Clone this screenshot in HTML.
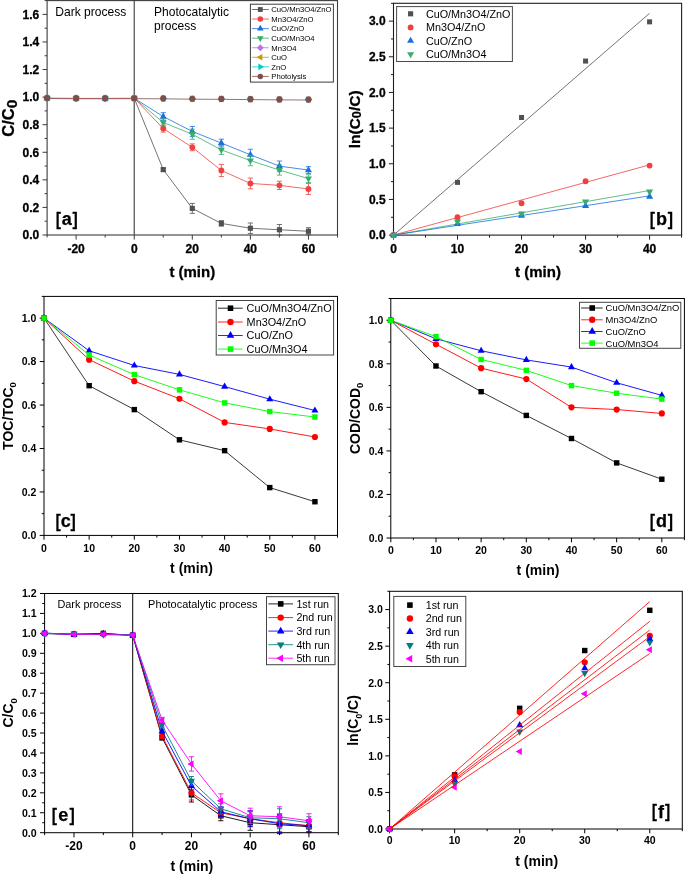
<!DOCTYPE html>
<html lang="en">
<head>
<meta charset="utf-8">
<title>Photocatalytic degradation kinetics</title>
<style>
html,body{margin:0;padding:0;background:#fff;}
body{width:685px;height:877px;overflow:hidden;}
svg{display:block;}
text{font-family:"Liberation Sans",Arial,Helvetica,sans-serif;}
</style>
</head>
<body>
<svg width="685" height="877" viewBox="0 0 685 877" font-family='&quot;Liberation Sans&quot;, Arial, Helvetica, sans-serif'>
<rect width="685" height="877" fill="#fff"/>
<g id="panel-a">
<rect x="47.1" y="0.6" width="290.4" height="234.4" fill="none" stroke="#3c3c3c" stroke-width="1.1"/>
<line x1="134.22" y1="0.6" x2="134.22" y2="235" stroke="#3c3c3c" stroke-width="1.1"/>
<line x1="47.1" y1="235" x2="47.1" y2="237.5" stroke="#3c3c3c" stroke-width="1"/>
<line x1="105.18" y1="235" x2="105.18" y2="237.5" stroke="#3c3c3c" stroke-width="1"/>
<line x1="163.26" y1="235" x2="163.26" y2="237.5" stroke="#3c3c3c" stroke-width="1"/>
<line x1="221.34" y1="235" x2="221.34" y2="237.5" stroke="#3c3c3c" stroke-width="1"/>
<line x1="279.42" y1="235" x2="279.42" y2="237.5" stroke="#3c3c3c" stroke-width="1"/>
<line x1="337.5" y1="235" x2="337.5" y2="237.5" stroke="#3c3c3c" stroke-width="1"/>
<line x1="76.14" y1="235" x2="76.14" y2="239.6" stroke="#3c3c3c" stroke-width="1"/>
<text x="76.14" y="252.6" font-size="12" font-weight="bold" text-anchor="middle" fill="#000" stroke="#000" stroke-width="0.3" stroke-linejoin="round">-20</text>
<line x1="134.22" y1="235" x2="134.22" y2="239.6" stroke="#3c3c3c" stroke-width="1"/>
<text x="134.22" y="252.6" font-size="12" font-weight="bold" text-anchor="middle" fill="#000" stroke="#000" stroke-width="0.3" stroke-linejoin="round">0</text>
<line x1="192.3" y1="235" x2="192.3" y2="239.6" stroke="#3c3c3c" stroke-width="1"/>
<text x="192.3" y="252.6" font-size="12" font-weight="bold" text-anchor="middle" fill="#000" stroke="#000" stroke-width="0.3" stroke-linejoin="round">20</text>
<line x1="250.38" y1="235" x2="250.38" y2="239.6" stroke="#3c3c3c" stroke-width="1"/>
<text x="250.38" y="252.6" font-size="12" font-weight="bold" text-anchor="middle" fill="#000" stroke="#000" stroke-width="0.3" stroke-linejoin="round">40</text>
<line x1="308.46" y1="235" x2="308.46" y2="239.6" stroke="#3c3c3c" stroke-width="1"/>
<text x="308.46" y="252.6" font-size="12" font-weight="bold" text-anchor="middle" fill="#000" stroke="#000" stroke-width="0.3" stroke-linejoin="round">60</text>
<line x1="44.6" y1="221.21" x2="47.1" y2="221.21" stroke="#3c3c3c" stroke-width="1"/>
<line x1="44.6" y1="193.64" x2="47.1" y2="193.64" stroke="#3c3c3c" stroke-width="1"/>
<line x1="44.6" y1="166.06" x2="47.1" y2="166.06" stroke="#3c3c3c" stroke-width="1"/>
<line x1="44.6" y1="138.48" x2="47.1" y2="138.48" stroke="#3c3c3c" stroke-width="1"/>
<line x1="44.6" y1="110.91" x2="47.1" y2="110.91" stroke="#3c3c3c" stroke-width="1"/>
<line x1="44.6" y1="83.33" x2="47.1" y2="83.33" stroke="#3c3c3c" stroke-width="1"/>
<line x1="44.6" y1="55.75" x2="47.1" y2="55.75" stroke="#3c3c3c" stroke-width="1"/>
<line x1="44.6" y1="28.18" x2="47.1" y2="28.18" stroke="#3c3c3c" stroke-width="1"/>
<line x1="44.6" y1="0.6" x2="47.1" y2="0.6" stroke="#3c3c3c" stroke-width="1"/>
<line x1="42.5" y1="235" x2="47.1" y2="235" stroke="#3c3c3c" stroke-width="1"/>
<text x="39.2" y="239.3" font-size="12" font-weight="bold" text-anchor="end" fill="#000" stroke="#000" stroke-width="0.3" stroke-linejoin="round">0.0</text>
<line x1="42.5" y1="207.42" x2="47.1" y2="207.42" stroke="#3c3c3c" stroke-width="1"/>
<text x="39.2" y="211.72" font-size="12" font-weight="bold" text-anchor="end" fill="#000" stroke="#000" stroke-width="0.3" stroke-linejoin="round">0.2</text>
<line x1="42.5" y1="179.85" x2="47.1" y2="179.85" stroke="#3c3c3c" stroke-width="1"/>
<text x="39.2" y="184.15" font-size="12" font-weight="bold" text-anchor="end" fill="#000" stroke="#000" stroke-width="0.3" stroke-linejoin="round">0.4</text>
<line x1="42.5" y1="152.27" x2="47.1" y2="152.27" stroke="#3c3c3c" stroke-width="1"/>
<text x="39.2" y="156.57" font-size="12" font-weight="bold" text-anchor="end" fill="#000" stroke="#000" stroke-width="0.3" stroke-linejoin="round">0.6</text>
<line x1="42.5" y1="124.69" x2="47.1" y2="124.69" stroke="#3c3c3c" stroke-width="1"/>
<text x="39.2" y="128.99" font-size="12" font-weight="bold" text-anchor="end" fill="#000" stroke="#000" stroke-width="0.3" stroke-linejoin="round">0.8</text>
<line x1="42.5" y1="97.12" x2="47.1" y2="97.12" stroke="#3c3c3c" stroke-width="1"/>
<text x="39.2" y="101.42" font-size="12" font-weight="bold" text-anchor="end" fill="#000" stroke="#000" stroke-width="0.3" stroke-linejoin="round">1.0</text>
<line x1="42.5" y1="69.54" x2="47.1" y2="69.54" stroke="#3c3c3c" stroke-width="1"/>
<text x="39.2" y="73.84" font-size="12" font-weight="bold" text-anchor="end" fill="#000" stroke="#000" stroke-width="0.3" stroke-linejoin="round">1.2</text>
<line x1="42.5" y1="41.96" x2="47.1" y2="41.96" stroke="#3c3c3c" stroke-width="1"/>
<text x="39.2" y="46.26" font-size="12" font-weight="bold" text-anchor="end" fill="#000" stroke="#000" stroke-width="0.3" stroke-linejoin="round">1.4</text>
<line x1="42.5" y1="14.39" x2="47.1" y2="14.39" stroke="#3c3c3c" stroke-width="1"/>
<text x="39.2" y="18.69" font-size="12" font-weight="bold" text-anchor="end" fill="#000" stroke="#000" stroke-width="0.3" stroke-linejoin="round">1.6</text>
<polyline points="134.22,98.22 163.26,169.64 192.3,208.39 221.34,223.42 250.38,228.24 279.42,229.76 308.46,231.28" fill="none" stroke="#515151" stroke-width="0.8" stroke-linejoin="round"/>
<polyline points="134.22,98.22 163.26,128.55 192.3,147.31 221.34,170.47 250.38,183.43 279.42,185.36 308.46,188.95" fill="none" stroke="#F14040" stroke-width="0.8" stroke-linejoin="round"/>
<polyline points="134.22,98.22 163.26,116.56 192.3,131.45 221.34,143.03 250.38,154.75 279.42,166.13 308.46,170.06" fill="none" stroke="#1A6FDF" stroke-width="0.8" stroke-linejoin="round"/>
<polyline points="134.22,98.22 163.26,122.49 192.3,134.21 221.34,149.93 250.38,160.54 279.42,170.06 308.46,178.61" fill="none" stroke="#37AD6B" stroke-width="0.8" stroke-linejoin="round"/>
<polyline points="47.1,98.08 76.14,98.36 105.18,98.36 134.22,98.22" fill="none" stroke="#F14040" stroke-width="0.8" stroke-linejoin="round"/>
<polyline points="47.1,98.5 76.14,98.77 105.18,98.77 134.22,98.63 163.26,98.84 192.3,99.19 221.34,99.32 250.38,99.6 279.42,99.88 308.46,100.01" fill="none" stroke="#7D4E4E" stroke-width="0.8" stroke-linejoin="round"/>
<path d="M163.26,167.99 V171.3 M160.66,167.99 H165.86 M160.66,171.3 H165.86" fill="none" stroke="#515151" stroke-width="0.8"/>
<path d="M192.3,203.42 V213.35 M189.7,203.42 H194.9 M189.7,213.35 H194.9" fill="none" stroke="#515151" stroke-width="0.8"/>
<path d="M221.34,220.66 V226.18 M218.74,220.66 H223.94 M218.74,226.18 H223.94" fill="none" stroke="#515151" stroke-width="0.8"/>
<path d="M250.38,223 V233.48 M247.78,223 H252.98 M247.78,233.48 H252.98" fill="none" stroke="#515151" stroke-width="0.8"/>
<path d="M279.42,224.52 V235 M276.82,224.52 H282.02 M276.82,235 H282.02" fill="none" stroke="#515151" stroke-width="0.8"/>
<path d="M308.46,227.69 V234.86 M305.86,227.69 H311.06 M305.86,234.86 H311.06" fill="none" stroke="#515151" stroke-width="0.8"/>
<rect x="44.54" y="95.52" width="5.13" height="5.13" fill="#515151"/>
<rect x="73.58" y="95.79" width="5.13" height="5.13" fill="#515151"/>
<rect x="102.62" y="95.79" width="5.13" height="5.13" fill="#515151"/>
<rect x="131.66" y="95.66" width="5.13" height="5.13" fill="#515151"/>
<rect x="160.69" y="167.08" width="5.13" height="5.13" fill="#515151"/>
<rect x="189.73" y="205.82" width="5.13" height="5.13" fill="#515151"/>
<rect x="218.78" y="220.85" width="5.13" height="5.13" fill="#515151"/>
<rect x="247.81" y="225.68" width="5.13" height="5.13" fill="#515151"/>
<rect x="276.86" y="227.2" width="5.13" height="5.13" fill="#515151"/>
<rect x="305.89" y="228.71" width="5.13" height="5.13" fill="#515151"/>
<path d="M163.26,124.97 V132.14 M160.66,124.97 H165.86 M160.66,132.14 H165.86" fill="none" stroke="#F14040" stroke-width="0.8"/>
<path d="M192.3,143.86 V150.75 M189.7,143.86 H194.9 M189.7,150.75 H194.9" fill="none" stroke="#F14040" stroke-width="0.8"/>
<path d="M221.34,164.4 V176.54 M218.74,164.4 H223.94 M218.74,176.54 H223.94" fill="none" stroke="#F14040" stroke-width="0.8"/>
<path d="M250.38,178.05 V188.81 M247.78,178.05 H252.98 M247.78,188.81 H252.98" fill="none" stroke="#F14040" stroke-width="0.8"/>
<path d="M279.42,181.23 V189.5 M276.82,181.23 H282.02 M276.82,189.5 H282.02" fill="none" stroke="#F14040" stroke-width="0.8"/>
<path d="M308.46,183.43 V194.46 M305.86,183.43 H311.06 M305.86,194.46 H311.06" fill="none" stroke="#F14040" stroke-width="0.8"/>
<circle cx="47.1" cy="98.08" r="2.93" fill="#F14040"/>
<circle cx="76.14" cy="98.36" r="2.93" fill="#F14040"/>
<circle cx="105.18" cy="98.36" r="2.93" fill="#F14040"/>
<circle cx="134.22" cy="98.22" r="2.93" fill="#F14040"/>
<circle cx="163.26" cy="128.55" r="2.93" fill="#F14040"/>
<circle cx="192.3" cy="147.31" r="2.93" fill="#F14040"/>
<circle cx="221.34" cy="170.47" r="2.93" fill="#F14040"/>
<circle cx="250.38" cy="183.43" r="2.93" fill="#F14040"/>
<circle cx="279.42" cy="185.36" r="2.93" fill="#F14040"/>
<circle cx="308.46" cy="188.95" r="2.93" fill="#F14040"/>
<path d="M163.26,112.7 V120.42 M160.66,112.7 H165.86 M160.66,120.42 H165.86" fill="none" stroke="#1A6FDF" stroke-width="0.8"/>
<path d="M192.3,126.49 V136.41 M189.7,126.49 H194.9 M189.7,136.41 H194.9" fill="none" stroke="#1A6FDF" stroke-width="0.8"/>
<path d="M221.34,139.17 V146.89 M218.74,139.17 H223.94 M218.74,146.89 H223.94" fill="none" stroke="#1A6FDF" stroke-width="0.8"/>
<path d="M250.38,149.24 V160.27 M247.78,149.24 H252.98 M247.78,160.27 H252.98" fill="none" stroke="#1A6FDF" stroke-width="0.8"/>
<path d="M279.42,161.03 V171.23 M276.82,161.03 H282.02 M276.82,171.23 H282.02" fill="none" stroke="#1A6FDF" stroke-width="0.8"/>
<path d="M308.46,166.61 V173.5 M305.86,166.61 H311.06 M305.86,173.5 H311.06" fill="none" stroke="#1A6FDF" stroke-width="0.8"/>
<polygon points="47.1,94.05 50.61,100.19 43.59,100.19" fill="#1A6FDF"/>
<polygon points="76.14,94.32 79.65,100.46 72.63,100.46" fill="#1A6FDF"/>
<polygon points="105.18,94.32 108.69,100.46 101.67,100.46" fill="#1A6FDF"/>
<polygon points="134.22,94.18 137.73,100.33 130.71,100.33" fill="#1A6FDF"/>
<polygon points="163.26,112.52 166.77,118.67 159.75,118.67" fill="#1A6FDF"/>
<polygon points="192.3,127.41 195.81,133.56 188.79,133.56" fill="#1A6FDF"/>
<polygon points="221.34,139 224.85,145.14 217.83,145.14" fill="#1A6FDF"/>
<polygon points="250.38,150.72 253.89,156.86 246.87,156.86" fill="#1A6FDF"/>
<polygon points="279.42,162.09 282.93,168.23 275.91,168.23" fill="#1A6FDF"/>
<polygon points="308.46,166.02 311.97,172.16 304.95,172.16" fill="#1A6FDF"/>
<path d="M163.26,119.04 V125.94 M160.66,119.04 H165.86 M160.66,125.94 H165.86" fill="none" stroke="#37AD6B" stroke-width="0.8"/>
<path d="M192.3,129.11 V139.31 M189.7,129.11 H194.9 M189.7,139.31 H194.9" fill="none" stroke="#37AD6B" stroke-width="0.8"/>
<path d="M221.34,145.38 V154.48 M218.74,145.38 H223.94 M218.74,154.48 H223.94" fill="none" stroke="#37AD6B" stroke-width="0.8"/>
<path d="M250.38,155.3 V165.78 M247.78,155.3 H252.98 M247.78,165.78 H252.98" fill="none" stroke="#37AD6B" stroke-width="0.8"/>
<path d="M279.42,164.96 V175.16 M276.82,164.96 H282.02 M276.82,175.16 H282.02" fill="none" stroke="#37AD6B" stroke-width="0.8"/>
<path d="M308.46,174.75 V182.47 M305.86,174.75 H311.06 M305.86,182.47 H311.06" fill="none" stroke="#37AD6B" stroke-width="0.8"/>
<polygon points="47.1,102.12 50.61,95.98 43.59,95.98" fill="#37AD6B"/>
<polygon points="76.14,102.4 79.65,96.25 72.63,96.25" fill="#37AD6B"/>
<polygon points="105.18,102.4 108.69,96.25 101.67,96.25" fill="#37AD6B"/>
<polygon points="134.22,102.26 137.73,96.11 130.71,96.11" fill="#37AD6B"/>
<polygon points="163.26,126.52 166.77,120.38 159.75,120.38" fill="#37AD6B"/>
<polygon points="192.3,138.24 195.81,132.1 188.79,132.1" fill="#37AD6B"/>
<polygon points="221.34,153.96 224.85,147.82 217.83,147.82" fill="#37AD6B"/>
<polygon points="250.38,164.58 253.89,158.44 246.87,158.44" fill="#37AD6B"/>
<polygon points="279.42,174.09 282.93,167.95 275.91,167.95" fill="#37AD6B"/>
<polygon points="308.46,182.64 311.97,176.5 304.95,176.5" fill="#37AD6B"/>
<polygon points="47.1,94.48 50.7,98.08 47.1,101.68 43.5,98.08" fill="#B177DE"/>
<polygon points="76.14,94.76 79.74,98.36 76.14,101.96 72.54,98.36" fill="#B177DE"/>
<polygon points="105.18,94.76 108.78,98.36 105.18,101.96 101.58,98.36" fill="#B177DE"/>
<polygon points="134.22,94.62 137.82,98.22 134.22,101.82 130.62,98.22" fill="#B177DE"/>
<polygon points="163.26,94.83 166.86,98.43 163.26,102.03 159.66,98.43" fill="#B177DE"/>
<polygon points="192.3,95.17 195.9,98.77 192.3,102.37 188.7,98.77" fill="#B177DE"/>
<polygon points="221.34,95.31 224.94,98.91 221.34,102.51 217.74,98.91" fill="#B177DE"/>
<polygon points="250.38,95.59 253.98,99.19 250.38,102.79 246.78,99.19" fill="#B177DE"/>
<polygon points="279.42,95.86 283.02,99.46 279.42,103.06 275.82,99.46" fill="#B177DE"/>
<polygon points="308.46,96 312.06,99.6 308.46,103.2 304.86,99.6" fill="#B177DE"/>
<polygon points="43.06,98.08 49.21,94.57 49.21,101.59" fill="#CC9900"/>
<polygon points="72.1,98.36 78.25,94.85 78.25,101.87" fill="#CC9900"/>
<polygon points="101.14,98.36 107.29,94.85 107.29,101.87" fill="#CC9900"/>
<polygon points="130.18,98.22 136.33,94.71 136.33,101.73" fill="#CC9900"/>
<polygon points="159.22,98.43 165.37,94.92 165.37,101.94" fill="#CC9900"/>
<polygon points="188.26,98.77 194.41,95.26 194.41,102.28" fill="#CC9900"/>
<polygon points="217.3,98.91 223.45,95.4 223.45,102.42" fill="#CC9900"/>
<polygon points="246.34,99.19 252.49,95.68 252.49,102.7" fill="#CC9900"/>
<polygon points="275.38,99.46 281.53,95.95 281.53,102.97" fill="#CC9900"/>
<polygon points="304.42,99.6 310.57,96.09 310.57,103.11" fill="#CC9900"/>
<polygon points="51.14,98.08 44.99,94.57 44.99,101.59" fill="#00CBCC"/>
<polygon points="80.18,98.36 74.03,94.85 74.03,101.87" fill="#00CBCC"/>
<polygon points="109.22,98.36 103.07,94.85 103.07,101.87" fill="#00CBCC"/>
<polygon points="138.26,98.22 132.11,94.71 132.11,101.73" fill="#00CBCC"/>
<polygon points="167.3,98.43 161.15,94.92 161.15,101.94" fill="#00CBCC"/>
<polygon points="196.34,98.77 190.19,95.26 190.19,102.28" fill="#00CBCC"/>
<polygon points="225.38,98.91 219.23,95.4 219.23,102.42" fill="#00CBCC"/>
<polygon points="254.42,99.19 248.27,95.68 248.27,102.7" fill="#00CBCC"/>
<polygon points="283.46,99.46 277.31,95.95 277.31,102.97" fill="#00CBCC"/>
<polygon points="312.5,99.6 306.35,96.09 306.35,103.11" fill="#00CBCC"/>
<circle cx="47.1" cy="98.08" r="3.09" fill="#7D4E4E"/>
<circle cx="76.14" cy="98.36" r="3.09" fill="#7D4E4E"/>
<circle cx="105.18" cy="98.36" r="3.09" fill="#7D4E4E"/>
<circle cx="134.22" cy="98.22" r="3.09" fill="#7D4E4E"/>
<circle cx="163.26" cy="98.43" r="3.09" fill="#7D4E4E"/>
<circle cx="192.3" cy="98.77" r="3.09" fill="#7D4E4E"/>
<circle cx="221.34" cy="98.91" r="3.09" fill="#7D4E4E"/>
<circle cx="250.38" cy="99.19" r="3.09" fill="#7D4E4E"/>
<circle cx="279.42" cy="99.46" r="3.09" fill="#7D4E4E"/>
<circle cx="308.46" cy="99.6" r="3.09" fill="#7D4E4E"/>
<text x="55.3" y="15.9" font-size="12.05" font-weight="normal" text-anchor="start" fill="#000">Dark process</text>
<text x="154" y="15.9" font-size="12.05" font-weight="normal" text-anchor="start" fill="#000">Photocatalytic</text>
<text x="154" y="30.2" font-size="12.05" font-weight="normal" text-anchor="start" fill="#000">process</text>
<rect x="250.4" y="4.2" width="83" height="77.9" fill="#fff" stroke="#3c3c3c" stroke-width="1"/>
<line x1="251.9" y1="9.5" x2="268.8" y2="9.5" stroke="#515151" stroke-width="0.8"/>
<rect x="257.88" y="7.08" width="4.84" height="4.84" fill="#515151"/>
<text x="271.3" y="12.27" font-size="7.7" font-weight="normal" text-anchor="start" fill="#000">CuO/Mn3O4/ZnO</text>
<line x1="251.9" y1="19.06" x2="268.8" y2="19.06" stroke="#F14040" stroke-width="0.8"/>
<circle cx="260.3" cy="19.06" r="2.76" fill="#F14040"/>
<text x="271.3" y="21.83" font-size="7.7" font-weight="normal" text-anchor="start" fill="#000">Mn3O4/ZnO</text>
<line x1="251.9" y1="28.62" x2="268.8" y2="28.62" stroke="#1A6FDF" stroke-width="0.8"/>
<polygon points="260.3,24.81 263.62,30.61 256.99,30.61" fill="#1A6FDF"/>
<text x="271.3" y="31.39" font-size="7.7" font-weight="normal" text-anchor="start" fill="#000">CuO/ZnO</text>
<line x1="251.9" y1="38.18" x2="268.8" y2="38.18" stroke="#37AD6B" stroke-width="0.8"/>
<polygon points="260.3,41.99 263.62,36.19 256.99,36.19" fill="#37AD6B"/>
<text x="271.3" y="40.95" font-size="7.7" font-weight="normal" text-anchor="start" fill="#000">CuO/Mn3O4</text>
<line x1="251.9" y1="47.74" x2="268.8" y2="47.74" stroke="#B177DE" stroke-width="0.8"/>
<polygon points="260.3,44.34 263.7,47.74 260.3,51.14 256.9,47.74" fill="#B177DE"/>
<text x="271.3" y="50.51" font-size="7.7" font-weight="normal" text-anchor="start" fill="#000">Mn3O4</text>
<line x1="251.9" y1="57.3" x2="268.8" y2="57.3" stroke="#CC9900" stroke-width="0.8"/>
<polygon points="256.49,57.3 262.29,53.99 262.29,60.62" fill="#CC9900"/>
<text x="271.3" y="60.07" font-size="7.7" font-weight="normal" text-anchor="start" fill="#000">CuO</text>
<line x1="251.9" y1="66.86" x2="268.8" y2="66.86" stroke="#00CBCC" stroke-width="0.8"/>
<polygon points="264.11,66.86 258.31,63.55 258.31,70.17" fill="#00CBCC"/>
<text x="271.3" y="69.63" font-size="7.7" font-weight="normal" text-anchor="start" fill="#000">ZnO</text>
<line x1="251.9" y1="76.42" x2="268.8" y2="76.42" stroke="#7D4E4E" stroke-width="0.8"/>
<circle cx="260.3" cy="76.42" r="2.76" fill="#7D4E4E"/>
<text x="271.3" y="79.19" font-size="7.7" font-weight="normal" text-anchor="start" fill="#000">Photolysis</text>
<text x="0" y="225.1" font-size="19.1" font-weight="bold" stroke="#000" stroke-width="0.25" text-anchor="start" transform="translate(55.8,0) scale(0.82,1)">[</text>
<text x="66.8" y="225.1" font-size="18" font-weight="bold" text-anchor="middle" stroke="#000" stroke-width="0.25">a</text>
<text x="0" y="225.1" font-size="19.1" font-weight="bold" stroke="#000" stroke-width="0.25" text-anchor="end" transform="translate(77.8,0) scale(0.82,1)">]</text>
<text transform="translate(13.5,118.2) rotate(-90)" font-size="16.5" font-weight="bold" text-anchor="middle" stroke="#000" stroke-width="0.3" stroke-linejoin="round">C/C<tspan font-size="15.5" dy="3.2">0</tspan></text>
<text x="192.3" y="276.7" font-size="15" font-weight="bold" text-anchor="middle" fill="#000" stroke="#000" stroke-width="0.3" stroke-linejoin="round">t (min)</text>
</g>
<g id="panel-b">
<rect x="393.5" y="3.3" width="288.1" height="231.8" fill="none" stroke="#1e1e1e" stroke-width="1.1"/>
<line x1="425.51" y1="235.1" x2="425.51" y2="237.6" stroke="#1e1e1e" stroke-width="1"/>
<line x1="489.53" y1="235.1" x2="489.53" y2="237.6" stroke="#1e1e1e" stroke-width="1"/>
<line x1="553.56" y1="235.1" x2="553.56" y2="237.6" stroke="#1e1e1e" stroke-width="1"/>
<line x1="617.58" y1="235.1" x2="617.58" y2="237.6" stroke="#1e1e1e" stroke-width="1"/>
<line x1="681.6" y1="235.1" x2="681.6" y2="237.6" stroke="#1e1e1e" stroke-width="1"/>
<line x1="393.5" y1="235.1" x2="393.5" y2="239.7" stroke="#1e1e1e" stroke-width="1"/>
<text x="393.5" y="252.6" font-size="12" font-weight="bold" text-anchor="middle" fill="#000" stroke="#000" stroke-width="0.3" stroke-linejoin="round">0</text>
<line x1="457.52" y1="235.1" x2="457.52" y2="239.7" stroke="#1e1e1e" stroke-width="1"/>
<text x="457.52" y="252.6" font-size="12" font-weight="bold" text-anchor="middle" fill="#000" stroke="#000" stroke-width="0.3" stroke-linejoin="round">10</text>
<line x1="521.54" y1="235.1" x2="521.54" y2="239.7" stroke="#1e1e1e" stroke-width="1"/>
<text x="521.54" y="252.6" font-size="12" font-weight="bold" text-anchor="middle" fill="#000" stroke="#000" stroke-width="0.3" stroke-linejoin="round">20</text>
<line x1="585.57" y1="235.1" x2="585.57" y2="239.7" stroke="#1e1e1e" stroke-width="1"/>
<text x="585.57" y="252.6" font-size="12" font-weight="bold" text-anchor="middle" fill="#000" stroke="#000" stroke-width="0.3" stroke-linejoin="round">30</text>
<line x1="649.59" y1="235.1" x2="649.59" y2="239.7" stroke="#1e1e1e" stroke-width="1"/>
<text x="649.59" y="252.6" font-size="12" font-weight="bold" text-anchor="middle" fill="#000" stroke="#000" stroke-width="0.3" stroke-linejoin="round">40</text>
<line x1="391" y1="217.27" x2="393.5" y2="217.27" stroke="#1e1e1e" stroke-width="1"/>
<line x1="391" y1="181.61" x2="393.5" y2="181.61" stroke="#1e1e1e" stroke-width="1"/>
<line x1="391" y1="145.95" x2="393.5" y2="145.95" stroke="#1e1e1e" stroke-width="1"/>
<line x1="391" y1="110.28" x2="393.5" y2="110.28" stroke="#1e1e1e" stroke-width="1"/>
<line x1="391" y1="74.62" x2="393.5" y2="74.62" stroke="#1e1e1e" stroke-width="1"/>
<line x1="391" y1="38.96" x2="393.5" y2="38.96" stroke="#1e1e1e" stroke-width="1"/>
<line x1="391" y1="3.3" x2="393.5" y2="3.3" stroke="#1e1e1e" stroke-width="1"/>
<line x1="388.9" y1="235.1" x2="393.5" y2="235.1" stroke="#1e1e1e" stroke-width="1"/>
<text x="385.6" y="239.4" font-size="12" font-weight="bold" text-anchor="end" fill="#000" stroke="#000" stroke-width="0.3" stroke-linejoin="round">0.0</text>
<line x1="388.9" y1="199.44" x2="393.5" y2="199.44" stroke="#1e1e1e" stroke-width="1"/>
<text x="385.6" y="203.74" font-size="12" font-weight="bold" text-anchor="end" fill="#000" stroke="#000" stroke-width="0.3" stroke-linejoin="round">0.5</text>
<line x1="388.9" y1="163.78" x2="393.5" y2="163.78" stroke="#1e1e1e" stroke-width="1"/>
<text x="385.6" y="168.08" font-size="12" font-weight="bold" text-anchor="end" fill="#000" stroke="#000" stroke-width="0.3" stroke-linejoin="round">1.0</text>
<line x1="388.9" y1="128.12" x2="393.5" y2="128.12" stroke="#1e1e1e" stroke-width="1"/>
<text x="385.6" y="132.42" font-size="12" font-weight="bold" text-anchor="end" fill="#000" stroke="#000" stroke-width="0.3" stroke-linejoin="round">1.5</text>
<line x1="388.9" y1="92.45" x2="393.5" y2="92.45" stroke="#1e1e1e" stroke-width="1"/>
<text x="385.6" y="96.75" font-size="12" font-weight="bold" text-anchor="end" fill="#000" stroke="#000" stroke-width="0.3" stroke-linejoin="round">2.0</text>
<line x1="388.9" y1="56.79" x2="393.5" y2="56.79" stroke="#1e1e1e" stroke-width="1"/>
<text x="385.6" y="61.09" font-size="12" font-weight="bold" text-anchor="end" fill="#000" stroke="#000" stroke-width="0.3" stroke-linejoin="round">2.5</text>
<line x1="388.9" y1="21.13" x2="393.5" y2="21.13" stroke="#1e1e1e" stroke-width="1"/>
<text x="385.6" y="25.43" font-size="12" font-weight="bold" text-anchor="end" fill="#000" stroke="#000" stroke-width="0.3" stroke-linejoin="round">3.0</text>
<line x1="393.5" y1="235.1" x2="649.59" y2="13.29" stroke="#515151" stroke-width="0.8"/>
<line x1="393.5" y1="235.1" x2="649.59" y2="164.85" stroke="#F14040" stroke-width="0.8"/>
<line x1="393.5" y1="235.1" x2="649.59" y2="190.52" stroke="#37AD6B" stroke-width="0.8"/>
<line x1="393.5" y1="235.1" x2="649.59" y2="195.87" stroke="#1A6FDF" stroke-width="0.8"/>
<rect x="390.99" y="232.59" width="5.02" height="5.02" fill="#515151"/>
<rect x="455.01" y="179.88" width="5.02" height="5.02" fill="#515151"/>
<rect x="519.04" y="114.98" width="5.02" height="5.02" fill="#515151"/>
<rect x="583.06" y="58.56" width="5.02" height="5.02" fill="#515151"/>
<rect x="647.08" y="19.34" width="5.02" height="5.02" fill="#515151"/>
<circle cx="393.5" cy="235.1" r="2.93" fill="#F14040"/>
<circle cx="457.52" cy="217.27" r="2.93" fill="#F14040"/>
<circle cx="521.54" cy="203.22" r="2.93" fill="#F14040"/>
<circle cx="585.57" cy="181.25" r="2.93" fill="#F14040"/>
<circle cx="649.59" cy="165.56" r="2.93" fill="#F14040"/>
<polygon points="393.5,230.97 397.09,237.25 389.91,237.25" fill="#1A6FDF"/>
<polygon points="457.52,219.78 461.11,226.06 453.93,226.06" fill="#1A6FDF"/>
<polygon points="521.54,211.36 525.13,217.64 517.96,217.64" fill="#1A6FDF"/>
<polygon points="585.57,201.73 589.15,208.01 581.98,208.01" fill="#1A6FDF"/>
<polygon points="649.59,192.46 653.18,198.74 646,198.74" fill="#1A6FDF"/>
<polygon points="393.5,239.23 397.09,232.95 389.91,232.95" fill="#37AD6B"/>
<polygon points="457.52,225.82 461.11,219.54 453.93,219.54" fill="#37AD6B"/>
<polygon points="521.54,217.69 525.13,211.41 517.96,211.41" fill="#37AD6B"/>
<polygon points="585.57,205.7 589.15,199.43 581.98,199.43" fill="#37AD6B"/>
<polygon points="649.59,195.72 653.18,189.44 646,189.44" fill="#37AD6B"/>
<rect x="396.6" y="6.6" width="115.8" height="54.9" fill="#fff" stroke="#4a4a4a" stroke-width="1"/>
<rect x="408.04" y="11.24" width="5.13" height="5.13" fill="#515151"/>
<text x="425.9" y="17.69" font-size="10.8" font-weight="normal" text-anchor="start" fill="#000">CuO/Mn3O4/ZnO</text>
<circle cx="410.6" cy="27.4" r="2.93" fill="#F14040"/>
<text x="425.9" y="31.29" font-size="10.8" font-weight="normal" text-anchor="start" fill="#000">Mn3O4/ZnO</text>
<polygon points="410.6,36.66 414.11,42.81 407.09,42.81" fill="#1A6FDF"/>
<text x="425.9" y="44.59" font-size="10.8" font-weight="normal" text-anchor="start" fill="#000">CuO/ZnO</text>
<polygon points="410.6,58.34 414.11,52.19 407.09,52.19" fill="#37AD6B"/>
<text x="425.9" y="58.19" font-size="10.8" font-weight="normal" text-anchor="start" fill="#000">CuO/Mn3O4</text>
<text x="0" y="224.9" font-size="19.1" font-weight="bold" stroke="#000" stroke-width="0.25" text-anchor="start" transform="translate(649.8,0) scale(0.82,1)">[</text>
<text x="661.4" y="224.9" font-size="18" font-weight="bold" text-anchor="middle" stroke="#000" stroke-width="0.25">b</text>
<text x="0" y="224.9" font-size="19.1" font-weight="bold" stroke="#000" stroke-width="0.25" text-anchor="end" transform="translate(673,0) scale(0.82,1)">]</text>
<text transform="translate(360.1,119.4) rotate(-90)" font-size="15.5" font-weight="bold" text-anchor="middle" stroke="#000" stroke-width="0.3" stroke-linejoin="round">ln(C<tspan font-size="12.8" dy="1.2">0</tspan><tspan dy="-1.2">/C)</tspan></text>
<text x="538" y="276.7" font-size="15" font-weight="bold" text-anchor="middle" fill="#000" stroke="#000" stroke-width="0.3" stroke-linejoin="round">t (min)</text>
</g>
<g id="panel-c">
<rect x="44" y="296.4" width="293.5" height="239" fill="none" stroke="#000" stroke-width="1"/>
<line x1="66.58" y1="535.4" x2="66.58" y2="537.6" stroke="#000" stroke-width="1"/>
<line x1="111.73" y1="535.4" x2="111.73" y2="537.6" stroke="#000" stroke-width="1"/>
<line x1="156.88" y1="535.4" x2="156.88" y2="537.6" stroke="#000" stroke-width="1"/>
<line x1="202.04" y1="535.4" x2="202.04" y2="537.6" stroke="#000" stroke-width="1"/>
<line x1="247.19" y1="535.4" x2="247.19" y2="537.6" stroke="#000" stroke-width="1"/>
<line x1="292.35" y1="535.4" x2="292.35" y2="537.6" stroke="#000" stroke-width="1"/>
<line x1="337.5" y1="535.4" x2="337.5" y2="537.6" stroke="#000" stroke-width="1"/>
<line x1="44" y1="535.4" x2="44" y2="539.7" stroke="#000" stroke-width="1"/>
<text x="44" y="551.6" font-size="10.5" font-weight="bold" text-anchor="middle" fill="#000">0</text>
<line x1="89.15" y1="535.4" x2="89.15" y2="539.7" stroke="#000" stroke-width="1"/>
<text x="89.15" y="551.6" font-size="10.5" font-weight="bold" text-anchor="middle" fill="#000">10</text>
<line x1="134.31" y1="535.4" x2="134.31" y2="539.7" stroke="#000" stroke-width="1"/>
<text x="134.31" y="551.6" font-size="10.5" font-weight="bold" text-anchor="middle" fill="#000">20</text>
<line x1="179.46" y1="535.4" x2="179.46" y2="539.7" stroke="#000" stroke-width="1"/>
<text x="179.46" y="551.6" font-size="10.5" font-weight="bold" text-anchor="middle" fill="#000">30</text>
<line x1="224.62" y1="535.4" x2="224.62" y2="539.7" stroke="#000" stroke-width="1"/>
<text x="224.62" y="551.6" font-size="10.5" font-weight="bold" text-anchor="middle" fill="#000">40</text>
<line x1="269.77" y1="535.4" x2="269.77" y2="539.7" stroke="#000" stroke-width="1"/>
<text x="269.77" y="551.6" font-size="10.5" font-weight="bold" text-anchor="middle" fill="#000">50</text>
<line x1="314.92" y1="535.4" x2="314.92" y2="539.7" stroke="#000" stroke-width="1"/>
<text x="314.92" y="551.6" font-size="10.5" font-weight="bold" text-anchor="middle" fill="#000">60</text>
<line x1="41.8" y1="513.67" x2="44" y2="513.67" stroke="#000" stroke-width="1"/>
<line x1="41.8" y1="470.22" x2="44" y2="470.22" stroke="#000" stroke-width="1"/>
<line x1="41.8" y1="426.76" x2="44" y2="426.76" stroke="#000" stroke-width="1"/>
<line x1="41.8" y1="383.31" x2="44" y2="383.31" stroke="#000" stroke-width="1"/>
<line x1="41.8" y1="339.85" x2="44" y2="339.85" stroke="#000" stroke-width="1"/>
<line x1="41.8" y1="296.4" x2="44" y2="296.4" stroke="#000" stroke-width="1"/>
<line x1="39.7" y1="535.4" x2="44" y2="535.4" stroke="#000" stroke-width="1"/>
<text x="36.3" y="539.2" font-size="10.5" font-weight="bold" text-anchor="end" fill="#000">0.0</text>
<line x1="39.7" y1="491.95" x2="44" y2="491.95" stroke="#000" stroke-width="1"/>
<text x="36.3" y="495.75" font-size="10.5" font-weight="bold" text-anchor="end" fill="#000">0.2</text>
<line x1="39.7" y1="448.49" x2="44" y2="448.49" stroke="#000" stroke-width="1"/>
<text x="36.3" y="452.29" font-size="10.5" font-weight="bold" text-anchor="end" fill="#000">0.4</text>
<line x1="39.7" y1="405.04" x2="44" y2="405.04" stroke="#000" stroke-width="1"/>
<text x="36.3" y="408.84" font-size="10.5" font-weight="bold" text-anchor="end" fill="#000">0.6</text>
<line x1="39.7" y1="361.58" x2="44" y2="361.58" stroke="#000" stroke-width="1"/>
<text x="36.3" y="365.38" font-size="10.5" font-weight="bold" text-anchor="end" fill="#000">0.8</text>
<line x1="39.7" y1="318.13" x2="44" y2="318.13" stroke="#000" stroke-width="1"/>
<text x="36.3" y="321.93" font-size="10.5" font-weight="bold" text-anchor="end" fill="#000">1.0</text>
<polyline points="44,318.13 89.15,385.7 134.31,409.6 179.46,439.8 224.62,450.66 269.77,487.6 314.92,501.72" fill="none" stroke="#222" stroke-width="0.9" stroke-linejoin="round"/>
<rect x="41.29" y="315.42" width="5.42" height="5.42" fill="#000000"/>
<rect x="86.45" y="382.99" width="5.42" height="5.42" fill="#000000"/>
<rect x="131.6" y="406.89" width="5.42" height="5.42" fill="#000000"/>
<rect x="176.75" y="437.09" width="5.42" height="5.42" fill="#000000"/>
<rect x="221.91" y="447.96" width="5.42" height="5.42" fill="#000000"/>
<rect x="267.06" y="484.89" width="5.42" height="5.42" fill="#000000"/>
<rect x="312.22" y="499.02" width="5.42" height="5.42" fill="#000000"/>
<polyline points="44,318.13 89.15,359.63 134.31,381.14 179.46,398.74 224.62,422.42 269.77,428.94 314.92,436.98" fill="none" stroke="#FF0000" stroke-width="0.9" stroke-linejoin="round"/>
<circle cx="44" cy="318.13" r="3.09" fill="#FF0000"/>
<circle cx="89.15" cy="359.63" r="3.09" fill="#FF0000"/>
<circle cx="134.31" cy="381.14" r="3.09" fill="#FF0000"/>
<circle cx="179.46" cy="398.74" r="3.09" fill="#FF0000"/>
<circle cx="224.62" cy="422.42" r="3.09" fill="#FF0000"/>
<circle cx="269.77" cy="428.94" r="3.09" fill="#FF0000"/>
<circle cx="314.92" cy="436.98" r="3.09" fill="#FF0000"/>
<polyline points="44,318.13 89.15,350.72 134.31,365.49 179.46,374.4 224.62,386.57 269.77,399.17 314.92,410.47" fill="none" stroke="#0000FF" stroke-width="0.9" stroke-linejoin="round"/>
<polygon points="44,314.09 47.51,320.23 40.49,320.23" fill="#0000FF"/>
<polygon points="89.15,346.68 92.66,352.82 85.64,352.82" fill="#0000FF"/>
<polygon points="134.31,361.46 137.82,367.6 130.8,367.6" fill="#0000FF"/>
<polygon points="179.46,370.36 182.97,376.51 175.95,376.51" fill="#0000FF"/>
<polygon points="224.62,382.53 228.13,388.67 221.11,388.67" fill="#0000FF"/>
<polygon points="269.77,395.13 273.28,401.28 266.26,401.28" fill="#0000FF"/>
<polygon points="314.92,406.43 318.43,412.57 311.41,412.57" fill="#0000FF"/>
<polyline points="44,318.13 89.15,355.06 134.31,374.62 179.46,389.83 224.62,402.86 269.77,411.55 314.92,416.99" fill="none" stroke="#00FF00" stroke-width="0.9" stroke-linejoin="round"/>
<rect x="41.29" y="315.42" width="5.42" height="5.42" fill="#00FF00"/>
<rect x="86.45" y="352.36" width="5.42" height="5.42" fill="#00FF00"/>
<rect x="131.6" y="371.91" width="5.42" height="5.42" fill="#00FF00"/>
<rect x="176.75" y="387.12" width="5.42" height="5.42" fill="#00FF00"/>
<rect x="221.91" y="400.16" width="5.42" height="5.42" fill="#00FF00"/>
<rect x="267.06" y="408.85" width="5.42" height="5.42" fill="#00FF00"/>
<rect x="312.22" y="414.28" width="5.42" height="5.42" fill="#00FF00"/>
<rect x="216.2" y="300.5" width="117.4" height="54.5" fill="#fff" stroke="#444" stroke-width="1"/>
<line x1="218" y1="308.2" x2="242.7" y2="308.2" stroke="#000000" stroke-width="0.85"/>
<rect x="227.71" y="305.41" width="5.59" height="5.59" fill="#000000"/>
<text x="246.6" y="312.11" font-size="10.85" font-weight="normal" text-anchor="start" fill="#000">CuO/Mn3O4/ZnO</text>
<line x1="218" y1="322" x2="242.7" y2="322" stroke="#FF0000" stroke-width="0.85"/>
<circle cx="230.5" cy="322" r="3.19" fill="#FF0000"/>
<text x="246.6" y="325.91" font-size="10.85" font-weight="normal" text-anchor="start" fill="#000">Mn3O4/ZnO</text>
<line x1="218" y1="335.5" x2="242.7" y2="335.5" stroke="#0000FF" stroke-width="0.85"/>
<polygon points="230.5,331.1 234.32,337.79 226.68,337.79" fill="#0000FF"/>
<text x="246.6" y="339.41" font-size="10.85" font-weight="normal" text-anchor="start" fill="#000">CuO/ZnO</text>
<line x1="218" y1="349.1" x2="242.7" y2="349.1" stroke="#00FF00" stroke-width="0.85"/>
<rect x="227.71" y="346.31" width="5.59" height="5.59" fill="#00FF00"/>
<text x="246.6" y="353.01" font-size="10.85" font-weight="normal" text-anchor="start" fill="#000">CuO/Mn3O4</text>
<text x="0" y="527.4" font-size="19.1" font-weight="bold" stroke="#000" stroke-width="0.25" text-anchor="start" transform="translate(55.6,0) scale(0.82,1)">[</text>
<text x="65.7" y="527.4" font-size="18" font-weight="bold" text-anchor="middle" stroke="#000" stroke-width="0.25">c</text>
<text x="0" y="527.4" font-size="19.1" font-weight="bold" stroke="#000" stroke-width="0.25" text-anchor="end" transform="translate(75.8,0) scale(0.82,1)">]</text>
<text transform="translate(12.8,416) rotate(-90)" font-size="14" font-weight="bold" text-anchor="middle">TOC/TOC<tspan font-size="9.5" dy="3.3">0</tspan></text>
<text x="191.5" y="573" font-size="14" font-weight="bold" text-anchor="middle" fill="#000">t (min)</text>
</g>
<g id="panel-d">
<rect x="390.8" y="298.5" width="293.6" height="239.5" fill="none" stroke="#000" stroke-width="1"/>
<line x1="413.38" y1="538" x2="413.38" y2="540.2" stroke="#000" stroke-width="1"/>
<line x1="458.55" y1="538" x2="458.55" y2="540.2" stroke="#000" stroke-width="1"/>
<line x1="503.72" y1="538" x2="503.72" y2="540.2" stroke="#000" stroke-width="1"/>
<line x1="548.89" y1="538" x2="548.89" y2="540.2" stroke="#000" stroke-width="1"/>
<line x1="594.06" y1="538" x2="594.06" y2="540.2" stroke="#000" stroke-width="1"/>
<line x1="639.23" y1="538" x2="639.23" y2="540.2" stroke="#000" stroke-width="1"/>
<line x1="684.4" y1="538" x2="684.4" y2="540.2" stroke="#000" stroke-width="1"/>
<line x1="390.8" y1="538" x2="390.8" y2="542.3" stroke="#000" stroke-width="1"/>
<text x="390.8" y="554" font-size="10.5" font-weight="bold" text-anchor="middle" fill="#000">0</text>
<line x1="435.97" y1="538" x2="435.97" y2="542.3" stroke="#000" stroke-width="1"/>
<text x="435.97" y="554" font-size="10.5" font-weight="bold" text-anchor="middle" fill="#000">10</text>
<line x1="481.14" y1="538" x2="481.14" y2="542.3" stroke="#000" stroke-width="1"/>
<text x="481.14" y="554" font-size="10.5" font-weight="bold" text-anchor="middle" fill="#000">20</text>
<line x1="526.31" y1="538" x2="526.31" y2="542.3" stroke="#000" stroke-width="1"/>
<text x="526.31" y="554" font-size="10.5" font-weight="bold" text-anchor="middle" fill="#000">30</text>
<line x1="571.48" y1="538" x2="571.48" y2="542.3" stroke="#000" stroke-width="1"/>
<text x="571.48" y="554" font-size="10.5" font-weight="bold" text-anchor="middle" fill="#000">40</text>
<line x1="616.65" y1="538" x2="616.65" y2="542.3" stroke="#000" stroke-width="1"/>
<text x="616.65" y="554" font-size="10.5" font-weight="bold" text-anchor="middle" fill="#000">50</text>
<line x1="661.82" y1="538" x2="661.82" y2="542.3" stroke="#000" stroke-width="1"/>
<text x="661.82" y="554" font-size="10.5" font-weight="bold" text-anchor="middle" fill="#000">60</text>
<line x1="388.6" y1="516.23" x2="390.8" y2="516.23" stroke="#000" stroke-width="1"/>
<line x1="388.6" y1="472.68" x2="390.8" y2="472.68" stroke="#000" stroke-width="1"/>
<line x1="388.6" y1="429.14" x2="390.8" y2="429.14" stroke="#000" stroke-width="1"/>
<line x1="388.6" y1="385.59" x2="390.8" y2="385.59" stroke="#000" stroke-width="1"/>
<line x1="388.6" y1="342.05" x2="390.8" y2="342.05" stroke="#000" stroke-width="1"/>
<line x1="388.6" y1="298.5" x2="390.8" y2="298.5" stroke="#000" stroke-width="1"/>
<line x1="386.5" y1="538" x2="390.8" y2="538" stroke="#000" stroke-width="1"/>
<text x="383.3" y="541.8" font-size="10.5" font-weight="bold" text-anchor="end" fill="#000">0.0</text>
<line x1="386.5" y1="494.45" x2="390.8" y2="494.45" stroke="#000" stroke-width="1"/>
<text x="383.3" y="498.25" font-size="10.5" font-weight="bold" text-anchor="end" fill="#000">0.2</text>
<line x1="386.5" y1="450.91" x2="390.8" y2="450.91" stroke="#000" stroke-width="1"/>
<text x="383.3" y="454.71" font-size="10.5" font-weight="bold" text-anchor="end" fill="#000">0.4</text>
<line x1="386.5" y1="407.36" x2="390.8" y2="407.36" stroke="#000" stroke-width="1"/>
<text x="383.3" y="411.16" font-size="10.5" font-weight="bold" text-anchor="end" fill="#000">0.6</text>
<line x1="386.5" y1="363.82" x2="390.8" y2="363.82" stroke="#000" stroke-width="1"/>
<text x="383.3" y="367.62" font-size="10.5" font-weight="bold" text-anchor="end" fill="#000">0.8</text>
<line x1="386.5" y1="320.27" x2="390.8" y2="320.27" stroke="#000" stroke-width="1"/>
<text x="383.3" y="324.07" font-size="10.5" font-weight="bold" text-anchor="end" fill="#000">1.0</text>
<polyline points="390.8,320.27 435.97,366 481.14,391.69 526.31,415.42 571.48,438.5 616.65,462.88 661.82,479.21" fill="none" stroke="#222" stroke-width="0.9" stroke-linejoin="round"/>
<rect x="388.09" y="317.57" width="5.42" height="5.42" fill="#000000"/>
<rect x="433.26" y="363.29" width="5.42" height="5.42" fill="#000000"/>
<rect x="478.43" y="388.98" width="5.42" height="5.42" fill="#000000"/>
<rect x="523.6" y="412.71" width="5.42" height="5.42" fill="#000000"/>
<rect x="568.77" y="435.79" width="5.42" height="5.42" fill="#000000"/>
<rect x="613.94" y="460.18" width="5.42" height="5.42" fill="#000000"/>
<rect x="659.11" y="476.51" width="5.42" height="5.42" fill="#000000"/>
<polyline points="390.8,320.27 435.97,344.22 481.14,368.17 526.31,379.06 571.48,407.36 616.65,409.54 661.82,413.46" fill="none" stroke="#FF0000" stroke-width="0.9" stroke-linejoin="round"/>
<circle cx="390.8" cy="320.27" r="3.09" fill="#FF0000"/>
<circle cx="435.97" cy="344.22" r="3.09" fill="#FF0000"/>
<circle cx="481.14" cy="368.17" r="3.09" fill="#FF0000"/>
<circle cx="526.31" cy="379.06" r="3.09" fill="#FF0000"/>
<circle cx="571.48" cy="407.36" r="3.09" fill="#FF0000"/>
<circle cx="616.65" cy="409.54" r="3.09" fill="#FF0000"/>
<circle cx="661.82" cy="413.46" r="3.09" fill="#FF0000"/>
<polyline points="390.8,320.27 435.97,338.78 481.14,350.75 526.31,359.9 571.48,367.08 616.65,382.76 661.82,395.39" fill="none" stroke="#0000FF" stroke-width="0.9" stroke-linejoin="round"/>
<polygon points="390.8,316.24 394.31,322.38 387.29,322.38" fill="#0000FF"/>
<polygon points="435.97,334.74 439.48,340.89 432.46,340.89" fill="#0000FF"/>
<polygon points="481.14,346.72 484.65,352.86 477.63,352.86" fill="#0000FF"/>
<polygon points="526.31,355.86 529.82,362.01 522.8,362.01" fill="#0000FF"/>
<polygon points="571.48,363.05 574.99,369.19 567.97,369.19" fill="#0000FF"/>
<polygon points="616.65,378.72 620.16,384.87 613.14,384.87" fill="#0000FF"/>
<polygon points="661.82,391.35 665.33,397.49 658.31,397.49" fill="#0000FF"/>
<polyline points="390.8,320.27 435.97,336.6 481.14,359.46 526.31,370.35 571.48,385.59 616.65,393.21 661.82,399.09" fill="none" stroke="#00FF00" stroke-width="0.9" stroke-linejoin="round"/>
<rect x="388.09" y="317.57" width="5.42" height="5.42" fill="#00FF00"/>
<rect x="433.26" y="333.89" width="5.42" height="5.42" fill="#00FF00"/>
<rect x="478.43" y="356.76" width="5.42" height="5.42" fill="#00FF00"/>
<rect x="523.6" y="367.64" width="5.42" height="5.42" fill="#00FF00"/>
<rect x="568.77" y="382.88" width="5.42" height="5.42" fill="#00FF00"/>
<rect x="613.94" y="390.5" width="5.42" height="5.42" fill="#00FF00"/>
<rect x="659.11" y="396.38" width="5.42" height="5.42" fill="#00FF00"/>
<rect x="579.5" y="302.3" width="101.3" height="46" fill="#fff" stroke="#444" stroke-width="1"/>
<line x1="581.1" y1="308" x2="602.7" y2="308" stroke="#000000" stroke-width="0.85"/>
<rect x="589.41" y="305.21" width="5.59" height="5.59" fill="#000000"/>
<text x="605.6" y="311.4" font-size="9.44" font-weight="normal" text-anchor="start" fill="#000">CuO/Mn3O4/ZnO</text>
<line x1="581.1" y1="319.8" x2="602.7" y2="319.8" stroke="#FF0000" stroke-width="0.85"/>
<circle cx="592.2" cy="319.8" r="3.19" fill="#FF0000"/>
<text x="605.6" y="323.2" font-size="9.44" font-weight="normal" text-anchor="start" fill="#000">Mn3O4/ZnO</text>
<line x1="581.1" y1="331.5" x2="602.7" y2="331.5" stroke="#0000FF" stroke-width="0.85"/>
<polygon points="592.2,327.1 596.02,333.79 588.38,333.79" fill="#0000FF"/>
<text x="605.6" y="334.9" font-size="9.44" font-weight="normal" text-anchor="start" fill="#000">CuO/ZnO</text>
<line x1="581.1" y1="343.1" x2="602.7" y2="343.1" stroke="#00FF00" stroke-width="0.85"/>
<rect x="589.41" y="340.31" width="5.59" height="5.59" fill="#00FF00"/>
<text x="605.6" y="346.5" font-size="9.44" font-weight="normal" text-anchor="start" fill="#000">CuO/Mn3O4</text>
<text x="0" y="526.9" font-size="19.1" font-weight="bold" stroke="#000" stroke-width="0.25" text-anchor="start" transform="translate(649.8,0) scale(0.82,1)">[</text>
<text x="661.4" y="526.9" font-size="18" font-weight="bold" text-anchor="middle" stroke="#000" stroke-width="0.25">d</text>
<text x="0" y="526.9" font-size="19.1" font-weight="bold" stroke="#000" stroke-width="0.25" text-anchor="end" transform="translate(673,0) scale(0.82,1)">]</text>
<text transform="translate(359.8,418.3) rotate(-90)" font-size="14" font-weight="bold" text-anchor="middle">COD/COD<tspan font-size="9.5" dy="3.3">0</tspan></text>
<text x="538" y="575.4" font-size="14" font-weight="bold" text-anchor="middle" fill="#000">t (min)</text>
</g>
<g id="panel-e">
<rect x="44.6" y="593.5" width="293.7" height="239.2" fill="none" stroke="#000" stroke-width="1"/>
<line x1="132.71" y1="593.5" x2="132.71" y2="832.7" stroke="#000" stroke-width="1"/>
<line x1="44.6" y1="832.7" x2="44.6" y2="835.1" stroke="#000" stroke-width="1"/>
<line x1="103.34" y1="832.7" x2="103.34" y2="835.1" stroke="#000" stroke-width="1"/>
<line x1="162.08" y1="832.7" x2="162.08" y2="835.1" stroke="#000" stroke-width="1"/>
<line x1="220.82" y1="832.7" x2="220.82" y2="835.1" stroke="#000" stroke-width="1"/>
<line x1="279.56" y1="832.7" x2="279.56" y2="835.1" stroke="#000" stroke-width="1"/>
<line x1="338.3" y1="832.7" x2="338.3" y2="835.1" stroke="#000" stroke-width="1"/>
<line x1="73.97" y1="832.7" x2="73.97" y2="837.3" stroke="#000" stroke-width="1"/>
<text x="73.97" y="849.7" font-size="12" font-weight="bold" text-anchor="middle" fill="#000">-20</text>
<line x1="132.71" y1="832.7" x2="132.71" y2="837.3" stroke="#000" stroke-width="1"/>
<text x="132.71" y="849.7" font-size="12" font-weight="bold" text-anchor="middle" fill="#000">0</text>
<line x1="191.45" y1="832.7" x2="191.45" y2="837.3" stroke="#000" stroke-width="1"/>
<text x="191.45" y="849.7" font-size="12" font-weight="bold" text-anchor="middle" fill="#000">20</text>
<line x1="250.19" y1="832.7" x2="250.19" y2="837.3" stroke="#000" stroke-width="1"/>
<text x="250.19" y="849.7" font-size="12" font-weight="bold" text-anchor="middle" fill="#000">40</text>
<line x1="308.93" y1="832.7" x2="308.93" y2="837.3" stroke="#000" stroke-width="1"/>
<text x="308.93" y="849.7" font-size="12" font-weight="bold" text-anchor="middle" fill="#000">60</text>
<line x1="42.2" y1="822.73" x2="44.6" y2="822.73" stroke="#000" stroke-width="1"/>
<line x1="42.2" y1="802.8" x2="44.6" y2="802.8" stroke="#000" stroke-width="1"/>
<line x1="42.2" y1="782.87" x2="44.6" y2="782.87" stroke="#000" stroke-width="1"/>
<line x1="42.2" y1="762.93" x2="44.6" y2="762.93" stroke="#000" stroke-width="1"/>
<line x1="42.2" y1="743" x2="44.6" y2="743" stroke="#000" stroke-width="1"/>
<line x1="42.2" y1="723.07" x2="44.6" y2="723.07" stroke="#000" stroke-width="1"/>
<line x1="42.2" y1="703.13" x2="44.6" y2="703.13" stroke="#000" stroke-width="1"/>
<line x1="42.2" y1="683.2" x2="44.6" y2="683.2" stroke="#000" stroke-width="1"/>
<line x1="42.2" y1="663.27" x2="44.6" y2="663.27" stroke="#000" stroke-width="1"/>
<line x1="42.2" y1="643.33" x2="44.6" y2="643.33" stroke="#000" stroke-width="1"/>
<line x1="42.2" y1="623.4" x2="44.6" y2="623.4" stroke="#000" stroke-width="1"/>
<line x1="42.2" y1="603.47" x2="44.6" y2="603.47" stroke="#000" stroke-width="1"/>
<line x1="40" y1="832.7" x2="44.6" y2="832.7" stroke="#000" stroke-width="1"/>
<text x="36.7" y="836.6" font-size="10.6" font-weight="bold" text-anchor="end" fill="#000">0.0</text>
<line x1="40" y1="812.77" x2="44.6" y2="812.77" stroke="#000" stroke-width="1"/>
<text x="36.7" y="816.67" font-size="10.6" font-weight="bold" text-anchor="end" fill="#000">0.1</text>
<line x1="40" y1="792.83" x2="44.6" y2="792.83" stroke="#000" stroke-width="1"/>
<text x="36.7" y="796.73" font-size="10.6" font-weight="bold" text-anchor="end" fill="#000">0.2</text>
<line x1="40" y1="772.9" x2="44.6" y2="772.9" stroke="#000" stroke-width="1"/>
<text x="36.7" y="776.8" font-size="10.6" font-weight="bold" text-anchor="end" fill="#000">0.3</text>
<line x1="40" y1="752.97" x2="44.6" y2="752.97" stroke="#000" stroke-width="1"/>
<text x="36.7" y="756.87" font-size="10.6" font-weight="bold" text-anchor="end" fill="#000">0.4</text>
<line x1="40" y1="733.03" x2="44.6" y2="733.03" stroke="#000" stroke-width="1"/>
<text x="36.7" y="736.93" font-size="10.6" font-weight="bold" text-anchor="end" fill="#000">0.5</text>
<line x1="40" y1="713.1" x2="44.6" y2="713.1" stroke="#000" stroke-width="1"/>
<text x="36.7" y="717" font-size="10.6" font-weight="bold" text-anchor="end" fill="#000">0.6</text>
<line x1="40" y1="693.17" x2="44.6" y2="693.17" stroke="#000" stroke-width="1"/>
<text x="36.7" y="697.07" font-size="10.6" font-weight="bold" text-anchor="end" fill="#000">0.7</text>
<line x1="40" y1="673.23" x2="44.6" y2="673.23" stroke="#000" stroke-width="1"/>
<text x="36.7" y="677.13" font-size="10.6" font-weight="bold" text-anchor="end" fill="#000">0.8</text>
<line x1="40" y1="653.3" x2="44.6" y2="653.3" stroke="#000" stroke-width="1"/>
<text x="36.7" y="657.2" font-size="10.6" font-weight="bold" text-anchor="end" fill="#000">0.9</text>
<line x1="40" y1="633.37" x2="44.6" y2="633.37" stroke="#000" stroke-width="1"/>
<text x="36.7" y="637.27" font-size="10.6" font-weight="bold" text-anchor="end" fill="#000">1.0</text>
<line x1="40" y1="613.43" x2="44.6" y2="613.43" stroke="#000" stroke-width="1"/>
<text x="36.7" y="617.33" font-size="10.6" font-weight="bold" text-anchor="end" fill="#000">1.1</text>
<line x1="40" y1="593.5" x2="44.6" y2="593.5" stroke="#000" stroke-width="1"/>
<text x="36.7" y="597.4" font-size="10.6" font-weight="bold" text-anchor="end" fill="#000">1.2</text>
<polyline points="44.6,633.37 73.97,634.36 103.34,633.37 132.71,635.36 162.08,737.62 191.45,794.83 220.82,815.76 250.19,822.73 279.56,824.73 308.93,826.72" fill="none" stroke="#000000" stroke-width="0.9" stroke-linejoin="round"/>
<path d="M162.08,735.23 V740.01 M159.48,735.23 H164.68 M159.48,740.01 H164.68" fill="none" stroke="#000000" stroke-width="0.9"/>
<path d="M191.45,787.65 V802 M188.85,787.65 H194.05 M188.85,802 H194.05" fill="none" stroke="#000000" stroke-width="0.9"/>
<path d="M220.82,810.77 V820.74 M218.22,810.77 H223.42 M218.22,820.74 H223.42" fill="none" stroke="#000000" stroke-width="0.9"/>
<path d="M250.19,815.16 V830.31 M247.59,815.16 H252.79 M247.59,830.31 H252.79" fill="none" stroke="#000000" stroke-width="0.9"/>
<path d="M279.56,815.76 V833.7 M276.96,815.76 H282.16 M276.96,833.7 H282.16" fill="none" stroke="#000000" stroke-width="0.9"/>
<path d="M308.93,820.74 V832.7 M306.33,820.74 H311.53 M306.33,832.7 H311.53" fill="none" stroke="#000000" stroke-width="0.9"/>
<rect x="41.89" y="630.66" width="5.42" height="5.42" fill="#000000"/>
<rect x="71.26" y="631.66" width="5.42" height="5.42" fill="#000000"/>
<rect x="100.63" y="630.66" width="5.42" height="5.42" fill="#000000"/>
<rect x="130" y="632.65" width="5.42" height="5.42" fill="#000000"/>
<rect x="159.37" y="734.91" width="5.42" height="5.42" fill="#000000"/>
<rect x="188.74" y="792.12" width="5.42" height="5.42" fill="#000000"/>
<rect x="218.11" y="813.05" width="5.42" height="5.42" fill="#000000"/>
<rect x="247.48" y="820.03" width="5.42" height="5.42" fill="#000000"/>
<rect x="276.85" y="822.02" width="5.42" height="5.42" fill="#000000"/>
<rect x="306.22" y="824.01" width="5.42" height="5.42" fill="#000000"/>
<polyline points="44.6,633.37 73.97,633.96 103.34,633.96 132.71,634.96 162.08,736.02 191.45,792.83 220.82,812.77 250.19,818.75 279.56,822.73 308.93,825.72" fill="none" stroke="#FF0000" stroke-width="0.9" stroke-linejoin="round"/>
<path d="M162.08,733.63 V738.42 M159.48,733.63 H164.68 M159.48,738.42 H164.68" fill="none" stroke="#FF0000" stroke-width="0.9"/>
<path d="M191.45,785.66 V800.01 M188.85,785.66 H194.05 M188.85,800.01 H194.05" fill="none" stroke="#FF0000" stroke-width="0.9"/>
<path d="M220.82,807.78 V817.75 M218.22,807.78 H223.42 M218.22,817.75 H223.42" fill="none" stroke="#FF0000" stroke-width="0.9"/>
<path d="M250.19,811.17 V826.32 M247.59,811.17 H252.79 M247.59,826.32 H252.79" fill="none" stroke="#FF0000" stroke-width="0.9"/>
<path d="M279.56,813.76 V831.7 M276.96,813.76 H282.16 M276.96,831.7 H282.16" fill="none" stroke="#FF0000" stroke-width="0.9"/>
<path d="M308.93,819.74 V831.7 M306.33,819.74 H311.53 M306.33,831.7 H311.53" fill="none" stroke="#FF0000" stroke-width="0.9"/>
<circle cx="44.6" cy="633.37" r="3.09" fill="#FF0000"/>
<circle cx="73.97" cy="633.96" r="3.09" fill="#FF0000"/>
<circle cx="103.34" cy="633.96" r="3.09" fill="#FF0000"/>
<circle cx="132.71" cy="634.96" r="3.09" fill="#FF0000"/>
<circle cx="162.08" cy="736.02" r="3.09" fill="#FF0000"/>
<circle cx="191.45" cy="792.83" r="3.09" fill="#FF0000"/>
<circle cx="220.82" cy="812.77" r="3.09" fill="#FF0000"/>
<circle cx="250.19" cy="818.75" r="3.09" fill="#FF0000"/>
<circle cx="279.56" cy="822.73" r="3.09" fill="#FF0000"/>
<circle cx="308.93" cy="825.72" r="3.09" fill="#FF0000"/>
<polyline points="44.6,632.97 73.97,634.76 103.34,633.77 132.71,635.36 162.08,731.04 191.45,785.86 220.82,811.77 250.19,818.75 279.56,823.73 308.93,825.72" fill="none" stroke="#0000FF" stroke-width="0.9" stroke-linejoin="round"/>
<path d="M162.08,729.05 V733.03 M159.48,729.05 H164.68 M159.48,733.03 H164.68" fill="none" stroke="#0000FF" stroke-width="0.9"/>
<path d="M191.45,781.87 V789.84 M188.85,781.87 H194.05 M188.85,789.84 H194.05" fill="none" stroke="#0000FF" stroke-width="0.9"/>
<path d="M220.82,806.79 V816.75 M218.22,806.79 H223.42 M218.22,816.75 H223.42" fill="none" stroke="#0000FF" stroke-width="0.9"/>
<path d="M250.19,810.77 V826.72 M247.59,810.77 H252.79 M247.59,826.72 H252.79" fill="none" stroke="#0000FF" stroke-width="0.9"/>
<path d="M279.56,814.76 V832.7 M276.96,814.76 H282.16 M276.96,832.7 H282.16" fill="none" stroke="#0000FF" stroke-width="0.9"/>
<path d="M308.93,819.74 V831.7 M306.33,819.74 H311.53 M306.33,831.7 H311.53" fill="none" stroke="#0000FF" stroke-width="0.9"/>
<polygon points="44.6,628.93 48.11,635.07 41.09,635.07" fill="#0000FF"/>
<polygon points="73.97,630.73 77.48,636.87 70.46,636.87" fill="#0000FF"/>
<polygon points="103.34,629.73 106.85,635.87 99.83,635.87" fill="#0000FF"/>
<polygon points="132.71,631.32 136.22,637.47 129.2,637.47" fill="#0000FF"/>
<polygon points="162.08,727 165.59,733.15 158.57,733.15" fill="#0000FF"/>
<polygon points="191.45,781.82 194.96,787.96 187.94,787.96" fill="#0000FF"/>
<polygon points="220.82,807.73 224.33,813.88 217.31,813.88" fill="#0000FF"/>
<polygon points="250.19,814.71 253.7,820.85 246.68,820.85" fill="#0000FF"/>
<polygon points="279.56,819.69 283.07,825.84 276.05,825.84" fill="#0000FF"/>
<polygon points="308.93,821.69 312.44,827.83 305.42,827.83" fill="#0000FF"/>
<polyline points="44.6,633.77 73.97,633.96 103.34,634.76 132.71,634.76 162.08,725.06 191.45,780.87 220.82,808.78 250.19,817.75 279.56,818.75 308.93,822.73" fill="none" stroke="#008080" stroke-width="0.9" stroke-linejoin="round"/>
<path d="M162.08,723.07 V727.05 M159.48,723.07 H164.68 M159.48,727.05 H164.68" fill="none" stroke="#008080" stroke-width="0.9"/>
<path d="M191.45,776.49 V785.26 M188.85,776.49 H194.05 M188.85,785.26 H194.05" fill="none" stroke="#008080" stroke-width="0.9"/>
<path d="M220.82,803.8 V813.76 M218.22,803.8 H223.42 M218.22,813.76 H223.42" fill="none" stroke="#008080" stroke-width="0.9"/>
<path d="M250.19,811.77 V823.73 M247.59,811.77 H252.79 M247.59,823.73 H252.79" fill="none" stroke="#008080" stroke-width="0.9"/>
<path d="M279.56,808.78 V828.71 M276.96,808.78 H282.16 M276.96,828.71 H282.16" fill="none" stroke="#008080" stroke-width="0.9"/>
<path d="M308.93,816.75 V828.71 M306.33,816.75 H311.53 M306.33,828.71 H311.53" fill="none" stroke="#008080" stroke-width="0.9"/>
<polygon points="44.6,637.8 48.11,631.66 41.09,631.66" fill="#008080"/>
<polygon points="73.97,638 77.48,631.86 70.46,631.86" fill="#008080"/>
<polygon points="103.34,638.8 106.85,632.66 99.83,632.66" fill="#008080"/>
<polygon points="132.71,638.8 136.22,632.66 129.2,632.66" fill="#008080"/>
<polygon points="162.08,729.1 165.59,722.95 158.57,722.95" fill="#008080"/>
<polygon points="191.45,784.91 194.96,778.77 187.94,778.77" fill="#008080"/>
<polygon points="220.82,812.82 224.33,806.67 217.31,806.67" fill="#008080"/>
<polygon points="250.19,821.79 253.7,815.64 246.68,815.64" fill="#008080"/>
<polygon points="279.56,822.78 283.07,816.64 276.05,816.64" fill="#008080"/>
<polygon points="308.93,826.77 312.44,820.63 305.42,820.63" fill="#008080"/>
<polyline points="44.6,633.37 73.97,634.36 103.34,634.36 132.71,635.36 162.08,720.08 191.45,763.93 220.82,800.81 250.19,815.76 279.56,816.75 308.93,820.74" fill="none" stroke="#FF00FF" stroke-width="0.9" stroke-linejoin="round"/>
<path d="M162.08,717.68 V722.47 M159.48,717.68 H164.68 M159.48,722.47 H164.68" fill="none" stroke="#FF00FF" stroke-width="0.9"/>
<path d="M191.45,756.75 V771.11 M188.85,756.75 H194.05 M188.85,771.11 H194.05" fill="none" stroke="#FF00FF" stroke-width="0.9"/>
<path d="M220.82,793.83 V807.78 M218.22,793.83 H223.42 M218.22,807.78 H223.42" fill="none" stroke="#FF00FF" stroke-width="0.9"/>
<path d="M250.19,808.18 V823.33 M247.59,808.18 H252.79 M247.59,823.33 H252.79" fill="none" stroke="#FF00FF" stroke-width="0.9"/>
<path d="M279.56,806.79 V826.72 M276.96,806.79 H282.16 M276.96,826.72 H282.16" fill="none" stroke="#FF00FF" stroke-width="0.9"/>
<path d="M308.93,813.76 V827.72 M306.33,813.76 H311.53 M306.33,827.72 H311.53" fill="none" stroke="#FF00FF" stroke-width="0.9"/>
<polygon points="40.56,633.37 46.71,629.86 46.71,636.88" fill="#FF00FF"/>
<polygon points="69.93,634.36 76.08,630.85 76.08,637.87" fill="#FF00FF"/>
<polygon points="99.3,634.36 105.45,630.85 105.45,637.87" fill="#FF00FF"/>
<polygon points="128.67,635.36 134.82,631.85 134.82,638.87" fill="#FF00FF"/>
<polygon points="158.04,720.08 164.19,716.57 164.19,723.59" fill="#FF00FF"/>
<polygon points="187.41,763.93 193.56,760.42 193.56,767.44" fill="#FF00FF"/>
<polygon points="216.78,800.81 222.93,797.3 222.93,804.32" fill="#FF00FF"/>
<polygon points="246.15,815.76 252.3,812.25 252.3,819.27" fill="#FF00FF"/>
<polygon points="275.52,816.75 281.67,813.24 281.67,820.26" fill="#FF00FF"/>
<polygon points="304.89,820.74 311.04,817.23 311.04,824.25" fill="#FF00FF"/>
<text x="57.4" y="607.7" font-size="10.9" font-weight="normal" text-anchor="start" fill="#000">Dark process</text>
<text x="148.1" y="607.7" font-size="10.95" font-weight="normal" text-anchor="start" fill="#000">Photocatalytic process</text>
<rect x="266.5" y="596.7" width="68.5" height="68" fill="#fff" stroke="#444" stroke-width="1"/>
<line x1="268.3" y1="603.9" x2="293" y2="603.9" stroke="#000000" stroke-width="0.85"/>
<rect x="277.91" y="601.11" width="5.59" height="5.59" fill="#000000"/>
<text x="296.4" y="607.75" font-size="10.7" font-weight="normal" text-anchor="start" fill="#000">1st run</text>
<line x1="268.3" y1="617.6" x2="293" y2="617.6" stroke="#FF0000" stroke-width="0.85"/>
<circle cx="280.7" cy="617.6" r="3.19" fill="#FF0000"/>
<text x="296.4" y="621.45" font-size="10.7" font-weight="normal" text-anchor="start" fill="#000">2nd run</text>
<line x1="268.3" y1="631.1" x2="293" y2="631.1" stroke="#0000FF" stroke-width="0.85"/>
<polygon points="280.7,626.7 284.52,633.39 276.88,633.39" fill="#0000FF"/>
<text x="296.4" y="634.95" font-size="10.7" font-weight="normal" text-anchor="start" fill="#000">3rd run</text>
<line x1="268.3" y1="644.7" x2="293" y2="644.7" stroke="#008080" stroke-width="0.85"/>
<polygon points="280.7,649.1 284.52,642.41 276.88,642.41" fill="#008080"/>
<text x="296.4" y="648.55" font-size="10.7" font-weight="normal" text-anchor="start" fill="#000">4th run</text>
<line x1="268.3" y1="658.2" x2="293" y2="658.2" stroke="#FF00FF" stroke-width="0.85"/>
<polygon points="276.3,658.2 282.99,654.38 282.99,662.02" fill="#FF00FF"/>
<text x="296.4" y="662.05" font-size="10.7" font-weight="normal" text-anchor="start" fill="#000">5th run</text>
<text x="0" y="820.6" font-size="19.1" font-weight="bold" stroke="#000" stroke-width="0.25" text-anchor="start" transform="translate(51.8,0) scale(0.82,1)">[</text>
<text x="63.25" y="820.6" font-size="18" font-weight="bold" text-anchor="middle" stroke="#000" stroke-width="0.25">e</text>
<text x="0" y="820.6" font-size="19.1" font-weight="bold" stroke="#000" stroke-width="0.25" text-anchor="end" transform="translate(74.7,0) scale(0.82,1)">]</text>
<text transform="translate(13.2,712.9) rotate(-90)" font-size="14" font-weight="bold" text-anchor="middle">C/C<tspan font-size="9.5" dy="3.3">0</tspan></text>
<text x="191.9" y="871.2" font-size="14" font-weight="bold" text-anchor="middle" fill="#000">t (min)</text>
</g>
<g id="panel-f">
<rect x="389.6" y="591.3" width="292.7" height="237.7" fill="none" stroke="#000" stroke-width="1"/>
<line x1="422.12" y1="829" x2="422.12" y2="831.2" stroke="#000" stroke-width="1"/>
<line x1="487.17" y1="829" x2="487.17" y2="831.2" stroke="#000" stroke-width="1"/>
<line x1="552.21" y1="829" x2="552.21" y2="831.2" stroke="#000" stroke-width="1"/>
<line x1="617.26" y1="829" x2="617.26" y2="831.2" stroke="#000" stroke-width="1"/>
<line x1="682.3" y1="829" x2="682.3" y2="831.2" stroke="#000" stroke-width="1"/>
<line x1="389.6" y1="829" x2="389.6" y2="833.3" stroke="#000" stroke-width="1"/>
<text x="389.6" y="844.4" font-size="10.5" font-weight="bold" text-anchor="middle" fill="#000">0</text>
<line x1="454.64" y1="829" x2="454.64" y2="833.3" stroke="#000" stroke-width="1"/>
<text x="454.64" y="844.4" font-size="10.5" font-weight="bold" text-anchor="middle" fill="#000">10</text>
<line x1="519.69" y1="829" x2="519.69" y2="833.3" stroke="#000" stroke-width="1"/>
<text x="519.69" y="844.4" font-size="10.5" font-weight="bold" text-anchor="middle" fill="#000">20</text>
<line x1="584.73" y1="829" x2="584.73" y2="833.3" stroke="#000" stroke-width="1"/>
<text x="584.73" y="844.4" font-size="10.5" font-weight="bold" text-anchor="middle" fill="#000">30</text>
<line x1="649.78" y1="829" x2="649.78" y2="833.3" stroke="#000" stroke-width="1"/>
<text x="649.78" y="844.4" font-size="10.5" font-weight="bold" text-anchor="middle" fill="#000">40</text>
<line x1="387.4" y1="810.72" x2="389.6" y2="810.72" stroke="#000" stroke-width="1"/>
<line x1="387.4" y1="774.15" x2="389.6" y2="774.15" stroke="#000" stroke-width="1"/>
<line x1="387.4" y1="737.58" x2="389.6" y2="737.58" stroke="#000" stroke-width="1"/>
<line x1="387.4" y1="701.01" x2="389.6" y2="701.01" stroke="#000" stroke-width="1"/>
<line x1="387.4" y1="664.44" x2="389.6" y2="664.44" stroke="#000" stroke-width="1"/>
<line x1="387.4" y1="627.87" x2="389.6" y2="627.87" stroke="#000" stroke-width="1"/>
<line x1="387.4" y1="591.3" x2="389.6" y2="591.3" stroke="#000" stroke-width="1"/>
<line x1="385.3" y1="829" x2="389.6" y2="829" stroke="#000" stroke-width="1"/>
<text x="382.8" y="832.8" font-size="10.5" font-weight="bold" text-anchor="end" fill="#000">0.0</text>
<line x1="385.3" y1="792.43" x2="389.6" y2="792.43" stroke="#000" stroke-width="1"/>
<text x="382.8" y="796.23" font-size="10.5" font-weight="bold" text-anchor="end" fill="#000">0.5</text>
<line x1="385.3" y1="755.86" x2="389.6" y2="755.86" stroke="#000" stroke-width="1"/>
<text x="382.8" y="759.66" font-size="10.5" font-weight="bold" text-anchor="end" fill="#000">1.0</text>
<line x1="385.3" y1="719.29" x2="389.6" y2="719.29" stroke="#000" stroke-width="1"/>
<text x="382.8" y="723.09" font-size="10.5" font-weight="bold" text-anchor="end" fill="#000">1.5</text>
<line x1="385.3" y1="682.72" x2="389.6" y2="682.72" stroke="#000" stroke-width="1"/>
<text x="382.8" y="686.52" font-size="10.5" font-weight="bold" text-anchor="end" fill="#000">2.0</text>
<line x1="385.3" y1="646.15" x2="389.6" y2="646.15" stroke="#000" stroke-width="1"/>
<text x="382.8" y="649.95" font-size="10.5" font-weight="bold" text-anchor="end" fill="#000">2.5</text>
<line x1="385.3" y1="609.58" x2="389.6" y2="609.58" stroke="#000" stroke-width="1"/>
<text x="382.8" y="613.38" font-size="10.5" font-weight="bold" text-anchor="end" fill="#000">3.0</text>
<rect x="386.89" y="826.29" width="5.42" height="5.42" fill="#000000"/>
<rect x="451.94" y="772.17" width="5.42" height="5.42" fill="#000000"/>
<rect x="516.98" y="705.61" width="5.42" height="5.42" fill="#000000"/>
<rect x="582.03" y="647.83" width="5.42" height="5.42" fill="#000000"/>
<rect x="647.07" y="607.61" width="5.42" height="5.42" fill="#000000"/>
<circle cx="389.6" cy="829" r="3.09" fill="#FF0000"/>
<circle cx="454.64" cy="776.34" r="3.09" fill="#FF0000"/>
<circle cx="519.69" cy="711.98" r="3.09" fill="#FF0000"/>
<circle cx="584.73" cy="662.24" r="3.09" fill="#FF0000"/>
<circle cx="649.78" cy="635.91" r="3.09" fill="#FF0000"/>
<polygon points="389.6,824.96 393.11,831.11 386.09,831.11" fill="#0000FF"/>
<polygon points="454.64,775.96 458.15,782.1 451.13,782.1" fill="#0000FF"/>
<polygon points="519.69,721.11 523.2,727.25 516.18,727.25" fill="#0000FF"/>
<polygon points="584.73,664.06 588.24,670.2 581.22,670.2" fill="#0000FF"/>
<polygon points="649.78,634.8 653.29,640.95 646.27,640.95" fill="#0000FF"/>
<polygon points="389.6,833.04 393.11,826.89 386.09,826.89" fill="#008080"/>
<polygon points="454.64,787.69 458.15,781.55 451.13,781.55" fill="#008080"/>
<polygon points="519.69,735.76 523.2,729.62 516.18,729.62" fill="#008080"/>
<polygon points="584.73,677.25 588.24,671.11 581.22,671.11" fill="#008080"/>
<polygon points="649.78,646.53 653.29,640.39 646.27,640.39" fill="#008080"/>
<polygon points="385.56,829 391.71,825.49 391.71,832.51" fill="#FF00FF"/>
<polygon points="450.61,787.31 456.75,783.8 456.75,790.82" fill="#FF00FF"/>
<polygon points="515.65,751.47 521.79,747.96 521.79,754.98" fill="#FF00FF"/>
<polygon points="580.7,693.69 586.84,690.18 586.84,697.2" fill="#FF00FF"/>
<polygon points="645.74,649.81 651.88,646.3 651.88,653.32" fill="#FF00FF"/>
<line x1="389.6" y1="829" x2="649.78" y2="601.54" stroke="#FF0000" stroke-width="0.85"/>
<line x1="389.6" y1="829" x2="649.78" y2="621.29" stroke="#FF0000" stroke-width="0.85"/>
<line x1="389.6" y1="829" x2="649.78" y2="630.06" stroke="#FF0000" stroke-width="0.85"/>
<line x1="389.6" y1="829" x2="649.78" y2="636.65" stroke="#FF0000" stroke-width="0.85"/>
<line x1="389.6" y1="829" x2="649.78" y2="653.47" stroke="#FF0000" stroke-width="0.85"/>
<rect x="393.8" y="596.4" width="72" height="70.1" fill="#fff" stroke="#444" stroke-width="1"/>
<rect x="407.11" y="602.31" width="5.59" height="5.59" fill="#000000"/>
<text x="425.7" y="608.95" font-size="10.7" font-weight="normal" text-anchor="start" fill="#000">1st run</text>
<circle cx="409.9" cy="618.5" r="3.19" fill="#FF0000"/>
<text x="425.7" y="622.35" font-size="10.7" font-weight="normal" text-anchor="start" fill="#000">2nd run</text>
<polygon points="409.9,627.4 413.72,634.09 406.08,634.09" fill="#0000FF"/>
<text x="425.7" y="635.65" font-size="10.7" font-weight="normal" text-anchor="start" fill="#000">3rd run</text>
<polygon points="409.9,649.8 413.72,643.11 406.08,643.11" fill="#008080"/>
<text x="425.7" y="649.25" font-size="10.7" font-weight="normal" text-anchor="start" fill="#000">4th run</text>
<polygon points="405.5,658.8 412.19,654.98 412.19,662.62" fill="#FF00FF"/>
<text x="425.7" y="662.65" font-size="10.7" font-weight="normal" text-anchor="start" fill="#000">5th run</text>
<text x="0" y="817.5" font-size="19.1" font-weight="bold" stroke="#000" stroke-width="0.25" text-anchor="start" transform="translate(651.8,0) scale(0.82,1)">[</text>
<text x="661.05" y="817.5" font-size="18" font-weight="bold" text-anchor="middle" stroke="#000" stroke-width="0.25">f</text>
<text x="0" y="817.5" font-size="19.1" font-weight="bold" stroke="#000" stroke-width="0.25" text-anchor="end" transform="translate(670.3,0) scale(0.82,1)">]</text>
<text transform="translate(358.4,720.5) rotate(-90)" font-size="14" font-weight="bold" text-anchor="middle">ln(C<tspan font-size="8.5" dy="3.3">0</tspan><tspan dy="-3.3">/C)</tspan></text>
<text x="536.7" y="865.9" font-size="14" font-weight="bold" text-anchor="middle" fill="#000">t (min)</text>
</g>
</svg>
</body>
</html>
